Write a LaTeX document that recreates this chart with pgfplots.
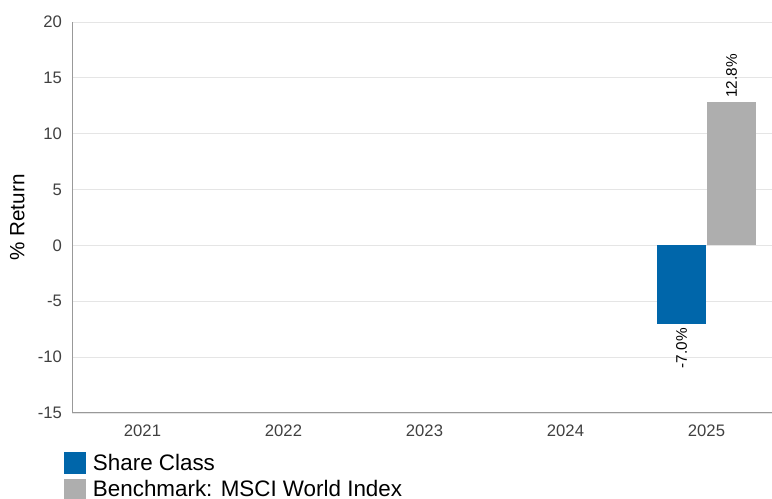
\documentclass[border=0pt]{standalone}
\usepackage{pgfplots}
\pgfplotsset{compat=1.18}
\usepackage{fontspec}
\setmainfont{Liberation Sans}
\definecolor{shareblue}{HTML}{0066AA}
\definecolor{benchgray}{HTML}{AEAEAE}
\definecolor{ticktext}{HTML}{404040}
\begin{document}
\begin{tikzpicture}
\path[use as bounding box] (0,0) rectangle (579pt,374.25pt);
\begin{axis}[
  at={(54pt,64.5pt)}, anchor=south west,
  scale only axis, width=528.75pt, height=293.25pt,
  ybar, bar width=36.75pt, ybar=0.75pt,
  xmin=-0.5, xmax=4.5, ymin=-15, ymax=20,
  xtick={0,1,2,3,4},
  xticklabels={2021,2022,2023,2024,2025},
  ytick={-15,-10,...,20},
  major tick length=0pt,
  axis x line*=bottom, axis y line*=left,
  axis line style={color=black!40, line width=0.75pt},
  ymajorgrids, grid style={color=black!10, line width=0.6pt},
  tick label style={font=\fontsize{12.5}{14}\selectfont, color=ticktext},
  xticklabel style={yshift=-5pt},
  yticklabel style={xshift=-4pt},
  /pgf/number format/assume math mode=true,
  ylabel={\% Return},
  ylabel style={font=\fontsize{15.5}{17}\selectfont, at={(axis description cs:-0.0775,0.5)}, anchor=center},
  legend cell align=left,
  legend style={draw=none, fill=none, at={(axis description cs:-0.0113,-0.097)}, anchor=north west,
    font=\fontsize{16.8}{18}\selectfont, inner sep=0pt, row sep=2.5pt,
    /tikz/every even column/.append style={column sep=0pt}},
  legend image code/.code={\fill[#1] (0pt,-7.9pt) rectangle (16.5pt,7.9pt);},
  nodes near coords={\pgfmathprintnumber[fixed,fixed zerofill,precision=1]{\pgfplotspointmeta}\%},
  every node near coord/.append style={font=\fontsize{11.5}{13}\selectfont, color=black, rotate=90},
]
\addplot[fill=shareblue, draw=none,
  every node near coord/.append style={anchor=east}] coordinates {(4,-7.0)};
\addplot[fill=benchgray, draw=none,
  every node near coord/.append style={anchor=west}] coordinates {(4,12.8)};
\legend{\hspace{3pt}Share Class,\hspace{3pt}Benchmark: MSCI World Index}
\end{axis}
\end{tikzpicture}
\end{document}
